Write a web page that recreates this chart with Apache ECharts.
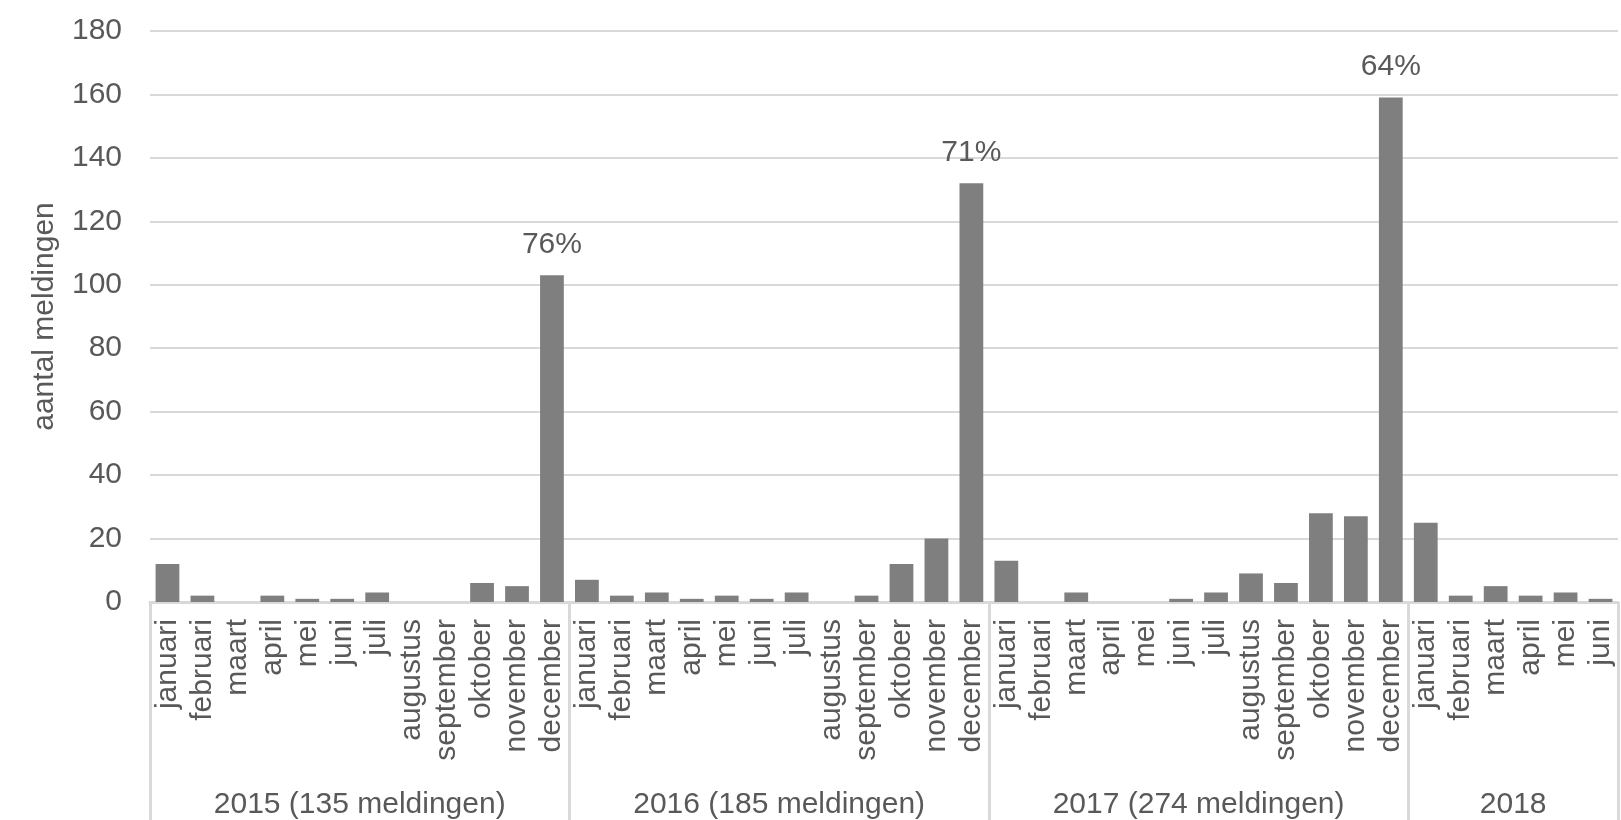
<!DOCTYPE html>
<html>
<head>
<meta charset="utf-8">
<script src="https://cdn.jsdelivr.net/npm/echarts@6/dist/echarts.min.js"></script>
<style>
html,body{margin:0;padding:0;background:#fff;}
#chart{width:1621px;height:820px;}
</style>
</head>
<body>
<div id="chart"></div>
<script>
const months2015 = ['januari','februari','maart','april','mei','juni','juli','augustus','september','oktober','november','december'];
const months2016 = ['januari','februari','maart','april','mei','juni','juli','augustus','september','oktober','november','december'];
const months2017 = ['januari','februari','maart','april','mei','juni','juli','augustus','september','oktober','november','december'];
const months2018 = ['januari','februari','maart','april','mei','juni'];

const values2015 = [12, 2, 0, 2, 1, 1, 3, 0, 0, 6, 5, 103];
const values2016 = [7, 2, 3, 1, 2, 1, 3, 0, 2, 12, 20, 132];
const values2017 = [13, 0, 3, 0, 0, 1, 3, 9, 6, 28, 27, 159];
const values2018 = [25, 2, 5, 2, 3, 1];

const yearGroups = ['2015 (135 meldingen)', '2016 (185 meldingen)', '2017 (274 meldingen)', '2018'];
const peakLabels = ['76%', '71%', '64%'];
const yTicks = [0, 20, 40, 60, 80, 100, 120, 140, 160, 180];

const groupMonths = [months2015, months2016, months2017, months2018];
const groupValues = [values2015, values2016, values2017, values2018];

const categories = [].concat(...groupMonths);
const values = [].concat(...groupValues);

// group boundaries (in category units) and centers
const bounds = [0];
groupMonths.forEach(g => bounds.push(bounds[bounds.length - 1] + g.length));
const centers = groupMonths.map((g, i) => bounds[i] + g.length / 2);

// December of first three years carries a percentage label
const peakIdx = [bounds[1] - 1, bounds[2] - 1, bounds[3] - 1];
const barData = values.map((v, i) => {
  const k = peakIdx.indexOf(i);
  if (k >= 0) {
    return { value: v, label: { show: true, formatter: peakLabels[k] } };
  }
  return v;
});

const FONT = "'Liberation Sans', Arial, sans-serif";
const TXT = '#595959';
const LINE = '#d9d9d9';

const chart = echarts.init(document.getElementById('chart'), null, { renderer: 'canvas' });
chart.setOption({
  animation: false,
  backgroundColor: '#ffffff',
  textStyle: { fontFamily: FONT },
  grid: { left: 150, right: 3, top: 31, bottom: 218, containLabel: false },
  xAxis: [
    {
      type: 'category',
      data: categories,
      position: 'bottom',
      axisLine: { show: true, lineStyle: { color: LINE, width: 3 } },
      axisTick: { show: false },
      axisLabel: {
        interval: 0, rotate: 90, margin: 17,
        fontSize: 30, color: TXT, fontFamily: FONT
      },
      splitLine: { show: false }
    },
    {
      type: 'value',
      min: 0, max: bounds[bounds.length - 1],
      position: 'bottom',
      axisLine: { show: false },
      splitLine: { show: false },
      axisTick: {
        show: true, inside: false, length: 260,
        customValues: bounds,
        lineStyle: { color: LINE, width: 3 }
      },
      axisLabel: {
        show: true, margin: 188,
        customValues: centers,
        formatter: v => yearGroups[centers.indexOf(v)] || '',
        fontSize: 30, color: TXT, fontFamily: FONT
      }
    }
  ],
  yAxis: {
    type: 'value',
    min: yTicks[0], max: yTicks[yTicks.length - 1], interval: yTicks[1] - yTicks[0],
    name: 'aantal meldingen',
    nameLocation: 'middle', nameRotate: 90, nameGap: 90,
    nameTextStyle: { fontSize: 30, color: TXT, fontFamily: FONT },
    axisLine: { show: false },
    axisTick: { show: false },
    axisLabel: { fontSize: 30, color: TXT, margin: 28, fontFamily: FONT },
    splitLine: { show: true, lineStyle: { color: LINE, width: 2 } }
  },
  series: [{
    type: 'bar',
    xAxisIndex: 0,
    data: barData,
    barCategoryGap: '32%',
    itemStyle: { color: '#7f7f7f' },
    label: { show: false, position: 'top', distance: 16, fontSize: 30, color: TXT, fontFamily: FONT }
  }]
});
</script>
</body>
</html>
